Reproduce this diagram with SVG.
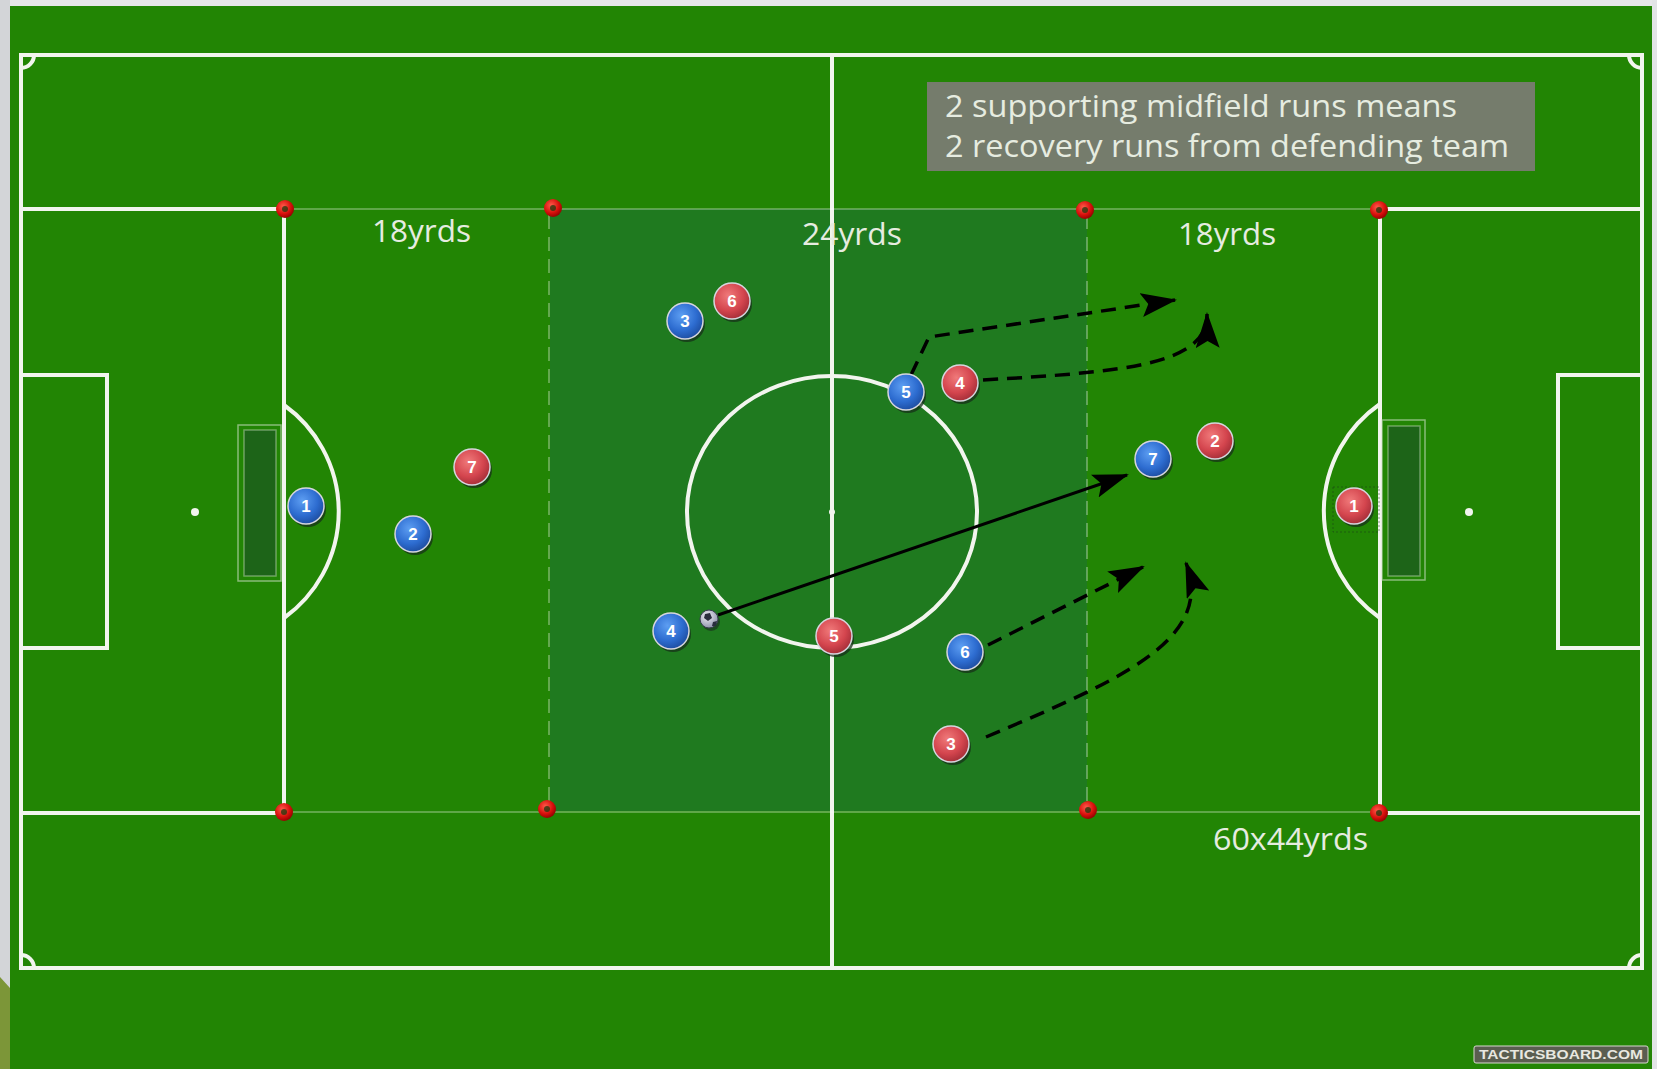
<svg xmlns="http://www.w3.org/2000/svg" width="1657" height="1069" viewBox="0 0 1657 1069">
<defs>
<style>
.ln{fill:none;stroke:#f2f5ee;stroke-width:4}
.thin{fill:none;stroke:#ffffff;stroke-opacity:0.28;stroke-width:2}
.dsh{fill:none;stroke:#ffffff;stroke-opacity:0.3;stroke-width:2;stroke-dasharray:14 8}
.lbl{font-family:"Open Sans","Liberation Sans",sans-serif;font-size:31px;fill:#e6ece0}
.num{font-family:"Liberation Sans",Arial,sans-serif;font-size:17px;font-weight:bold;fill:#ffffff;text-anchor:middle}
.run{fill:none;stroke:#000;stroke-width:3.5;stroke-dasharray:15 9}
.pass{fill:none;stroke:#000;stroke-width:3}
.shadow{fill:#17301a;opacity:0.75}
.rim{stroke:#d6d6de;stroke-width:1.5}
</style>
<radialGradient id="gb" cx="40%" cy="35%" r="70%">
<stop offset="0" stop-color="#5d9ef2"/><stop offset="0.6" stop-color="#2d6cd0"/><stop offset="1" stop-color="#1c4a9c"/>
</radialGradient>
<radialGradient id="gr" cx="40%" cy="35%" r="70%">
<stop offset="0" stop-color="#f07a7a"/><stop offset="0.6" stop-color="#d4454e"/><stop offset="1" stop-color="#a02c36"/>
</radialGradient>
<radialGradient id="gc" cx="40%" cy="35%" r="70%">
<stop offset="0" stop-color="#ff5a4a"/><stop offset="0.6" stop-color="#d8100c"/><stop offset="1" stop-color="#8a0000"/>
</radialGradient>
<radialGradient id="gball" cx="40%" cy="35%" r="70%">
<stop offset="0" stop-color="#f0f0f6"/><stop offset="1" stop-color="#8a8ea8"/>
</radialGradient>
<marker id="ah" viewBox="0 0 36 24" refX="34" refY="12" markerWidth="36" markerHeight="24" markerUnits="userSpaceOnUse" orient="auto">
<path d="M0,0 L36,12 L0,24 L7,12 Z" fill="#000"/>
</marker>
<g id="cone">
<circle r="9" fill="url(#gc)"/>
<circle r="3" fill="#2a3a10" opacity="0.8"/>
</g>
</defs>

<!-- background -->
<rect x="0" y="0" width="1657" height="1069" fill="#228504"/>
<rect x="0" y="0" width="1657" height="6" fill="#e6e7e9"/>
<rect x="0" y="0" width="10" height="1069" fill="#d3d5d8"/>
<rect x="1652" y="0" width="5" height="1069" fill="#e2e4e6"/>
<polygon points="0,977 10,988 10,1069 0,1069" fill="#7c9638"/>

<!-- shaded zone -->
<rect x="550" y="209" width="537" height="602" fill="#1f7a1f"/>

<!-- pitch markings -->
<g id="pitch">
<rect class="ln" x="21" y="55" width="1621" height="913"/>
<line class="ln" x1="832" y1="55" x2="832" y2="968"/>
<path class="ln" d="M21,209 H284 V813 H21"/>
<path class="ln" d="M1642,209 H1380 V813 H1642"/>
<path class="ln" d="M21,375 H107 V648 H21"/>
<path class="ln" d="M1642,375 H1558 V648 H1642"/>
<path class="ln" d="M284,405 A131,131 0 0 1 284,618"/>
<path class="ln" d="M1380,404 A130,130 0 0 0 1380,618"/>
<ellipse class="ln" cx="832" cy="512" rx="145" ry="136"/>
<circle cx="832" cy="512" r="3" fill="#f2f5ee"/>
<circle cx="195" cy="512" r="4" fill="#f2f5ee"/>
<circle cx="1469" cy="512" r="4" fill="#f2f5ee"/>
<path class="ln" stroke-width="3" d="M21,68 A13,13 0 0 0 34,55"/>
<path class="ln" stroke-width="3" d="M21,955 A13,13 0 0 1 34,968"/>
<path class="ln" stroke-width="3" d="M1629,55 A13,13 0 0 0 1642,68"/>
<path class="ln" stroke-width="3" d="M1642,955 A13,13 0 0 0 1629,968"/>
<line class="thin" x1="284" y1="209" x2="1380" y2="209"/>
<line class="thin" x1="284" y1="812" x2="1380" y2="812"/>
<line class="dsh" x1="549" y1="215" x2="549" y2="806"/>
<line class="dsh" x1="1087" y1="215" x2="1087" y2="806"/>
</g>

<!-- goals -->
<g id="goal-left">
<rect x="238" y="425" width="43" height="156" fill="none" stroke="#cfe0c8" stroke-opacity="0.6" stroke-width="1.5"/>
<rect x="244" y="430" width="32" height="146" fill="#1d6418" stroke="#cfe0c8" stroke-opacity="0.45" stroke-width="1.5"/>
</g>
<g id="goal-right">
<rect x="1382" y="420" width="43" height="160" fill="none" stroke="#cfe0c8" stroke-opacity="0.6" stroke-width="1.5"/>
<rect x="1388" y="426" width="32" height="150" fill="#1d6418" stroke="#cfe0c8" stroke-opacity="0.45" stroke-width="1.5"/>
</g>

<!-- cones -->
<g id="cones">
<use href="#cone" x="285" y="209"/>
<use href="#cone" x="553" y="208"/>
<use href="#cone" x="1085" y="210"/>
<use href="#cone" x="1379" y="210"/>
<use href="#cone" x="284" y="812"/>
<use href="#cone" x="547" y="809"/>
<use href="#cone" x="1088" y="810"/>
<use href="#cone" x="1379" y="813"/>
</g>

<!-- labels -->
<g id="info-box">
<rect x="927" y="82" width="608" height="89" fill="#757c6c"/>
<text class="lbl" x="945" y="117" textLength="512" lengthAdjust="spacingAndGlyphs">2 supporting midfield runs means</text>
<text class="lbl" x="945" y="157" textLength="564" lengthAdjust="spacingAndGlyphs">2 recovery runs from defending team</text>
</g>
<g id="labels">
<text class="lbl" x="372" y="242" textLength="99" lengthAdjust="spacingAndGlyphs">18yrds</text>
<text class="lbl" x="802" y="245" textLength="100" lengthAdjust="spacingAndGlyphs">24yrds</text>
<text class="lbl" x="1178" y="245" textLength="98" lengthAdjust="spacingAndGlyphs">18yrds</text>
<text class="lbl" x="1213" y="850" textLength="155" lengthAdjust="spacingAndGlyphs">60x44yrds</text>
</g>

<!-- connectors -->
<g id="connectors">
<line class="pass" x1="718" y1="615" x2="1127" y2="475" marker-end="url(#ah)"/>
<path class="run" d="M911,375 L929,337 L1175,300" marker-end="url(#ah)"/>
<path class="run" d="M983,380 C1120,372 1208,366 1207,314" marker-end="url(#ah)"/>
<line class="run" x1="988" y1="645" x2="1143" y2="567" marker-end="url(#ah)"/>
<path class="run" d="M986,737 C1120,680 1215,640 1186,563" marker-end="url(#ah)"/>
</g>

<!-- selection box around keeper -->
<rect x="1333" y="487" width="46" height="45" fill="none" stroke="#1a3a1a" stroke-opacity="0.5" stroke-width="1" stroke-dasharray="2 2"/>

<!-- ball -->
<g id="ball">
<circle cx="711" cy="622" r="9" fill="#1a2a20" opacity="0.6"/>
<circle cx="709" cy="619" r="9" fill="url(#gball)" stroke="#3a3e50" stroke-width="1"/>
<path d="M705,614 L710,613 L712,618 L708,621 L704,618 Z" fill="#2a2e3e"/>
<path d="M713,622 L717,621 L716,626 L712,626 Z" fill="#2a2e3e"/>
</g>

<!-- players -->
<g id="blue-1"><circle class="shadow" cx="308" cy="509" r="18"/><circle class="rim" cx="306" cy="506" r="18" fill="url(#gb)"/><text class="num" x="306" y="512">1</text></g>
<g id="blue-2"><circle class="shadow" cx="415" cy="537" r="18"/><circle class="rim" cx="413" cy="534" r="18" fill="url(#gb)"/><text class="num" x="413" y="540">2</text></g>
<g id="blue-3"><circle class="shadow" cx="687" cy="324" r="18"/><circle class="rim" cx="685" cy="321" r="18" fill="url(#gb)"/><text class="num" x="685" y="327">3</text></g>
<g id="blue-4"><circle class="shadow" cx="673" cy="634" r="18"/><circle class="rim" cx="671" cy="631" r="18" fill="url(#gb)"/><text class="num" x="671" y="637">4</text></g>
<g id="blue-5"><circle class="shadow" cx="908" cy="395" r="18"/><circle class="rim" cx="906" cy="392" r="18" fill="url(#gb)"/><text class="num" x="906" y="398">5</text></g>
<g id="blue-6"><circle class="shadow" cx="967" cy="655" r="18"/><circle class="rim" cx="965" cy="652" r="18" fill="url(#gb)"/><text class="num" x="965" y="658">6</text></g>
<g id="blue-7"><circle class="shadow" cx="1155" cy="462" r="18"/><circle class="rim" cx="1153" cy="459" r="18" fill="url(#gb)"/><text class="num" x="1153" y="465">7</text></g>

<g id="red-1"><circle class="shadow" cx="1356" cy="509" r="18"/><circle class="rim" cx="1354" cy="506" r="18" fill="url(#gr)"/><text class="num" x="1354" y="512">1</text></g>
<g id="red-2"><circle class="shadow" cx="1217" cy="444" r="18"/><circle class="rim" cx="1215" cy="441" r="18" fill="url(#gr)"/><text class="num" x="1215" y="447">2</text></g>
<g id="red-3"><circle class="shadow" cx="953" cy="747" r="18"/><circle class="rim" cx="951" cy="744" r="18" fill="url(#gr)"/><text class="num" x="951" y="750">3</text></g>
<g id="red-4"><circle class="shadow" cx="962" cy="386" r="18"/><circle class="rim" cx="960" cy="383" r="18" fill="url(#gr)"/><text class="num" x="960" y="389">4</text></g>
<g id="red-5"><circle class="shadow" cx="836" cy="639" r="18"/><circle class="rim" cx="834" cy="636" r="18" fill="url(#gr)"/><text class="num" x="834" y="642">5</text></g>
<g id="red-6"><circle class="shadow" cx="734" cy="304" r="18"/><circle class="rim" cx="732" cy="301" r="18" fill="url(#gr)"/><text class="num" x="732" y="307">6</text></g>
<g id="red-7"><circle class="shadow" cx="474" cy="470" r="18"/><circle class="rim" cx="472" cy="467" r="18" fill="url(#gr)"/><text class="num" x="472" y="473">7</text></g>

<!-- watermark -->
<g id="watermark">
<rect x="1474" y="1046" width="174" height="17" rx="2" fill="#5a5e50" stroke="#d8d8d0" stroke-width="1"/>
<text x="1561" y="1059" font-family="Liberation Sans, Arial, sans-serif" font-size="12" font-weight="bold" fill="#e8e8e0" text-anchor="middle" textLength="164" lengthAdjust="spacingAndGlyphs">TACTICSBOARD.COM</text>
</g>
</svg>
